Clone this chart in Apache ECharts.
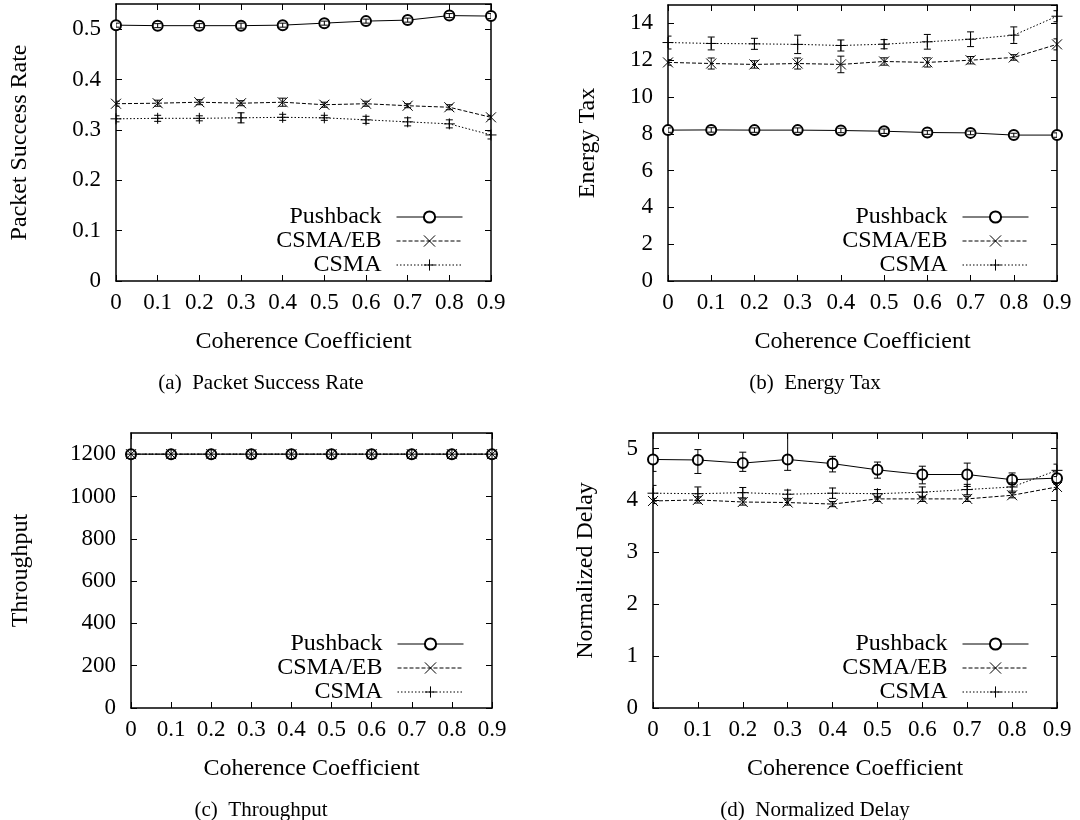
<!DOCTYPE html>
<html><head><meta charset="utf-8">
<script src="https://cdn.jsdelivr.net/npm/echarts@6/dist/echarts.min.js"></script>
<style>html,body{margin:0;padding:0;background:#fff}#c{width:1080px;height:820px}</style>
</head><body><div id="c"></div>
<script>
const coherence = [0, 0.1, 0.2, 0.3, 0.4, 0.5, 0.6, 0.7, 0.8, 0.9];
const xTickLabels = ['0', '0.1', '0.2', '0.3', '0.4', '0.5', '0.6', '0.7', '0.8', '0.9'];
const seriesNames = ['Pushback', 'CSMA/EB', 'CSMA'];

// (a) Packet Success Rate
const psrPushback = [0.508, 0.507, 0.507, 0.507, 0.508, 0.512, 0.516, 0.518, 0.527, 0.526];
const psrPushbackErr = [0.004, 0.004, 0.004, 0.005, 0.004, 0.004, 0.004, 0.004, 0.004, 0.005];
const psrCsmaEb = [0.352, 0.353, 0.355, 0.353, 0.355, 0.350, 0.352, 0.348, 0.345, 0.325];
const psrCsmaEbErr = [0.005, 0.006, 0.005, 0.005, 0.008, 0.005, 0.005, 0.004, 0.005, 0.004];
const psrCsma = [0.322, 0.323, 0.323, 0.324, 0.325, 0.324, 0.320, 0.316, 0.312, 0.290];
const psrCsmaErr = [0.006, 0.006, 0.005, 0.010, 0.006, 0.005, 0.007, 0.008, 0.008, 0.008];

// (b) Energy Tax
const etPushback = [8.20, 8.21, 8.20, 8.20, 8.18, 8.14, 8.07, 8.05, 7.93, 7.93];
const etPushbackErr = [0.12, 0.12, 0.12, 0.12, 0.12, 0.12, 0.1, 0.1, 0.1, 0.12];
const etCsmaEb = [11.88, 11.82, 11.77, 11.82, 11.77, 11.93, 11.88, 12.00, 12.15, 12.86];
const etCsmaEbErr = [0.15, 0.3, 0.2, 0.3, 0.45, 0.2, 0.25, 0.2, 0.15, 0.3];
const etCsma = [12.96, 12.91, 12.89, 12.86, 12.80, 12.87, 13.00, 13.14, 13.36, 14.39];
const etCsmaErr = [0.35, 0.35, 0.3, 0.5, 0.3, 0.25, 0.4, 0.4, 0.45, 0.3];

// (c) Throughput
const tpPushback = [1200, 1200, 1200, 1200, 1200, 1200, 1200, 1200, 1200, 1200];
const tpCsmaEb = [1200, 1200, 1200, 1200, 1200, 1200, 1200, 1200, 1200, 1200];
const tpCsma = [1200, 1200, 1200, 1200, 1200, 1200, 1200, 1200, 1200, 1200];

// (d) Normalized Delay
const ndPushback = [4.79, 4.78, 4.72, 4.79, 4.71, 4.59, 4.50, 4.50, 4.40, 4.43];
const ndPushbackLow = [4.56, 4.52, 4.56, 4.58, 4.55, 4.43, 4.32, 4.27, 4.31, 4.33];
const ndPushbackHigh = [5.00, 4.98, 4.93, 5.45, 4.85, 4.74, 4.66, 4.72, 4.53, 4.55];
const ndCsmaEb = [3.99, 4.01, 3.97, 3.96, 3.93, 4.03, 4.03, 4.03, 4.10, 4.26];
const ndCsmaEbErr = [0.05, 0.06, 0.06, 0.05, 0.05, 0.05, 0.05, 0.05, 0.05, 0.05];
const ndCsma = [4.14, 4.13, 4.15, 4.12, 4.14, 4.13, 4.16, 4.21, 4.26, 4.58];
const ndCsmaErr = [0.15, 0.13, 0.10, 0.08, 0.10, 0.08, 0.10, 0.10, 0.08, 0.12];

const yTitles = ['Packet Success Rate', 'Energy Tax', 'Throughput', 'Normalized Delay'];
const captions = ['(a)  Packet Success Rate', '(b)  Energy Tax', '(c)  Throughput', '(d)  Normalized Delay'];
const xTitle = 'Coherence Coefficient';

const FONT = '"Liberation Serif", "Times New Roman", serif';
const grids = [
  {left: 116, top: 4, width: 375, height: 277},
  {left: 668, top: 5, width: 389, height: 276},
  {left: 131, top: 433, width: 361, height: 275},
  {left: 653, top: 433, width: 404, height: 275}
];
const yRanges = [
  {max: 0.55, interval: 0.1, gap: 84},
  {max: 15, interval: 2, gap: 68},
  {max: 1300, interval: 200, gap: 98},
  {max: 5.3, interval: 1, gap: 55}
];

const SYM_X = 'path://M0,0L10,10M10,0L0,10';
const SYM_PLUS = 'path://M5,0L5,10M0,5L10,5';
const styles = [
  {symbol: 'emptyCircle', size: 10, type: 'solid'},
  {symbol: SYM_X, size: 10, type: [4, 2]},
  {symbol: SYM_PLUS, size: 11, type: [1.5, 2]}
];

function fmtY(v) {
  const s = +v.toFixed(3);
  return String(s);
}

const xAxes = [], yAxes = [], series = [], legends = [], titles = [];
grids.forEach((g, i) => {
  const axLine = {show: true, onZero: false, lineStyle: {color: '#000', width: 1.5}};
  const tickIn = {show: true, inside: true, length: 6, lineStyle: {color: '#000', width: 1}};
  xAxes.push({
    type: 'value', gridIndex: i, min: 0, max: 0.9, interval: 0.1, position: 'bottom',
    axisLine: axLine, axisTick: tickIn, splitLine: {show: false},
    axisLabel: {color: '#000', fontFamily: FONT, fontSize: 23, margin: 10,
      formatter: v => xTickLabels[Math.round(v * 10)]},
    name: xTitle, nameLocation: 'middle', nameGap: 49,
    nameTextStyle: {color: '#000', fontFamily: FONT, fontSize: 24}
  });
  xAxes.push({
    type: 'value', gridIndex: i, min: 0, max: 0.9, interval: 0.1, position: 'top',
    axisLine: axLine, axisTick: tickIn, splitLine: {show: false}, axisLabel: {show: false}
  });
  const r = yRanges[i];
  yAxes.push({
    type: 'value', gridIndex: i, min: 0, max: r.max, interval: r.interval, position: 'left',
    axisLine: axLine, axisTick: tickIn, splitLine: {show: false},
    axisLabel: {color: '#000', fontFamily: FONT, fontSize: 23, margin: 15, showMaxLabel: false, formatter: fmtY},
    name: yTitles[i], nameLocation: 'middle', nameGap: r.gap, nameRotate: 90,
    nameTextStyle: {color: '#000', fontFamily: FONT, fontSize: 24}
  });
  yAxes.push({
    type: 'value', gridIndex: i, min: 0, max: r.max, interval: r.interval, position: 'right',
    axisLine: axLine, axisTick: tickIn, splitLine: {show: false}, axisLabel: {show: false}
  });
  const legendRight = 1080 - (g.left + g.width - 28);
  const legendTop = g.top + g.height - 16 - 24 * 2 - 12;
  legends.push({
    data: seriesNames, orient: 'vertical', align: 'right', right: legendRight, top: legendTop,
    itemWidth: 66, itemHeight: 14, itemGap: 0, padding: 0, selectedMode: false,
    lineStyle: {width: 1},
    itemStyle: {borderWidth: 1},
    textStyle: {color: '#000', fontFamily: FONT, fontSize: 24, lineHeight: 24, padding: [0, 10, 0, 0]}
  });
  titles.push({
    text: captions[i], left: (i % 2 === 0 ? 256 : 810), top: g.top + g.height + 87, textAlign: 'center',
    textStyle: {color: '#000', fontFamily: FONT, fontSize: 21, fontWeight: 'normal'}
  });
});

function lineSeries(gi, si, values) {
  const st = styles[si];
  return {
    type: 'line', name: seriesNames[si], xAxisIndex: gi * 2, yAxisIndex: gi * 2,
    data: coherence.map((x, k) => [x, values[k]]),
    symbol: st.symbol, symbolSize: st.size, showSymbol: true, animation: false,
    lineStyle: {color: '#000', width: 1, type: st.type},
    itemStyle: {color: '#000', borderColor: '#000', borderWidth: 1},
    z: 3
  };
}
function errSeries(gi, lows, highs) {
  return {
    type: 'custom', xAxisIndex: gi * 2, yAxisIndex: gi * 2, silent: true, animation: false, clip: true,
    data: coherence.map((x, k) => [x, lows[k], highs[k]]),
    encode: {x: 0, y: [1, 2]},
    renderItem: (params, api) => {
      const x = api.value(0);
      const pLo = api.coord([x, api.value(1)]);
      const pHi = api.coord([x, api.value(2)]);
      const w = 3.5, s = {stroke: '#000', lineWidth: 1};
      return {type: 'group', children: [
        {type: 'line', shape: {x1: pLo[0], y1: pLo[1], x2: pHi[0], y2: pHi[1]}, style: s},
        {type: 'line', shape: {x1: pLo[0] - w, y1: pLo[1], x2: pLo[0] + w, y2: pLo[1]}, style: s},
        {type: 'line', shape: {x1: pHi[0] - w, y1: pHi[1], x2: pHi[0] + w, y2: pHi[1]}, style: s}
      ]};
    },
    z: 4
  };
}
function sym(vals, errs) {
  return [vals.map((v, k) => v - errs[k]), vals.map((v, k) => v + errs[k])];
}

const panelData = [
  [[psrPushback, psrPushbackErr], [psrCsmaEb, psrCsmaEbErr], [psrCsma, psrCsmaErr]],
  [[etPushback, etPushbackErr], [etCsmaEb, etCsmaEbErr], [etCsma, etCsmaErr]],
  [[tpPushback, null], [tpCsmaEb, null], [tpCsma, null]],
  [[ndPushback, 'asym'], [ndCsmaEb, ndCsmaEbErr], [ndCsma, ndCsmaErr]]
];
panelData.forEach((p, gi) => {
  p.forEach((d, si) => {
    series.push(lineSeries(gi, si, d[0]));
    if (d[1] === 'asym') series.push(errSeries(gi, ndPushbackLow, ndPushbackHigh));
    else if (d[1]) { const lh = sym(d[0], d[1]); series.push(errSeries(gi, lh[0], lh[1])); }
  });
});

const chart = echarts.init(document.getElementById('c'), null, {renderer: 'canvas'});
chart.setOption({
  backgroundColor: '#fff', animation: false,
  title: titles, legend: legends,
  grid: grids, xAxis: xAxes, yAxis: yAxes, series: series
});
</script></body></html>
